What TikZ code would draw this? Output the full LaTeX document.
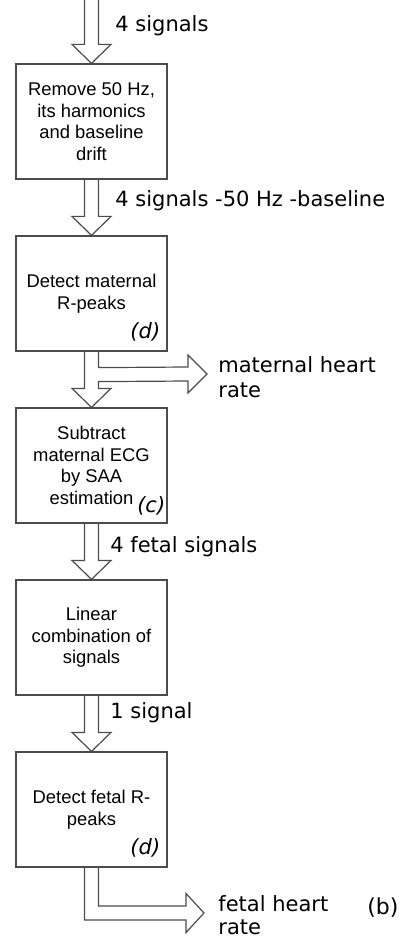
\documentclass[tikz,border=0pt]{standalone}
\usepackage{fontspec}
\setmainfont{Liberation Sans}
\newfontfamily\labelfont{DejaVu Sans}[ItalicFont={DejaVu Sans Oblique}]
\usetikzlibrary{calc}

\tikzset{
  stage/.style={draw=black!70, line width=0.6pt, fill=white,
    minimum width=75.5pt, minimum height=57.5pt, inner sep=0pt,
    align=center, font=\fontsize{9.2}{10.75}\selectfont},
  flow/.style={draw=black!70, line width=0.6pt, line join=miter},
  sig/.style={font=\labelfont\fontsize{10.5}{12}\selectfont,
    inner sep=0pt, anchor=base west},
  ref/.style={font=\labelfont\itshape\fontsize{10.5}{12}\selectfont,
    inner sep=0pt, anchor=base east},
}

% hollow block arrow from the bottom of one stage to the top of the next
\newcommand{\stagearrow}[2]{%
  \draw[flow] ($(#1.south)+(-7,0)$) -- ($(#2.north)+(-7,-19)$)
    -- ($(#2.north)+(-19.5,-19)$) -- (#2.north)
    -- ($(#2.north)+(19.5,-19)$) -- ($(#2.north)+(7,-19)$)
    -- ($(#1.south)+(7,0)$);}

\begin{document}
\begin{tikzpicture}[x=0.5pt, y=-0.5pt]
  \useasboundingbox (0,0) rectangle (410,940);

  % processing stages
  \node[stage] (b1) at (91.5,121.5) {Remove 50 Hz,\\its harmonics\\and baseline\\drift};
  \node[stage] (b2) at (91.5,293.5) {Detect maternal\\R-peaks};
  \node[stage] (b3) at (91.5,465.5) {Subtract\\maternal ECG\\by SAA\\estimation};
  \node[stage] (b4) at (91.5,637.5) {Linear\\combination of\\signals};
  \node[stage] (b5) at (91.5,809.5) {Detect fetal R-\\peaks};

  \node[ref] (d1) at ($(b2.south east)+(-7,-13.5)$) {(d)};
  \node[ref] (c1) at ($(b3.south east)+(-2,-11.5)$) {(c)};
  \node[ref] (d2) at ($(b5.south east)+(-7,-13.5)$) {(d)};

  % input arrow
  \coordinate (in) at (91.5,0);
  \draw[flow] ($(in)+(-7,0)$) -- ($(b1.north)+(-7,-19)$)
    -- ($(b1.north)+(-19.5,-19)$) -- (b1.north)
    -- ($(b1.north)+(19.5,-19)$) -- ($(b1.north)+(7,-19)$)
    -- ($(in)+(7,0)$);

  % filtered signals
  \stagearrow{b1}{b2}

  % maternal peaks: down to subtraction, branch out to heart rate
  \coordinate (mtip) at (207,374);
  \draw[flow] ($(b2.south)+(-7,0)$) -- ($(b3.north)+(-7,-19)$)
    -- ($(b3.north)+(-19.5,-19)$) -- (b3.north)
    -- ($(b3.north)+(19.5,-19)$) -- ($(b3.north)+(7,-19)$)
    -- ($(b2.south)+(7,30)$) -- ($(mtip)+(-19,7)$)
    -- ($(mtip)+(-19,19)$) -- (mtip) -- ($(mtip)+(-19,-19)$)
    -- ($(mtip)+(-19,-7)$) -- ($(b2.south)+(7,16)$)
    -- ($(b2.south)+(7,0)$);

  \stagearrow{b3}{b4}
  \stagearrow{b4}{b5}

  % fetal heart rate output
  \coordinate (ftip) at (204,913);
  \draw[flow] ($(b5.south)+(-7,0)$) |- ($(ftip)+(-18,7)$)
    -- ($(ftip)+(-18,19.5)$) -- (ftip) -- ($(ftip)+(-18,-19.5)$)
    -- ($(ftip)+(-18,-7)$) -| ($(b5.south)+(7,0)$);

  % signal labels
  \node[sig] (l1) at (115,32) {4 signals};
  \node[sig] (l2) at (115,207) {4 signals -50 Hz -baseline};
  \node[sig] (mhr1) at (218,372) {maternal heart};
  \node[sig] (mhr2) at (218,397) {rate};
  \node[sig] (l3) at (110,552) {4 fetal signals};
  \node[sig] (l4) at (110,718) {1 signal};
  \node[sig] (fhr1) at (218,911) {fetal heart};
  \node[sig] (fhr2) at (218,934) {rate};
  \node[sig, font=\labelfont\fontsize{11}{13}\selectfont] (tag) at (367,914) {(b)};
\end{tikzpicture}
\end{document}
